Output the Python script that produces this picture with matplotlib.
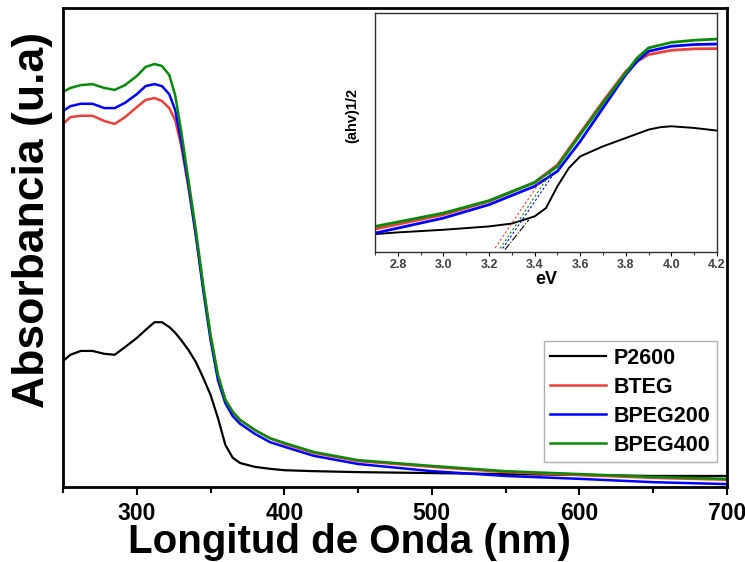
import numpy as np
import matplotlib
matplotlib.use('Agg')
import matplotlib.pyplot as plt

plt.rcParams['font.family'] = ['Liberation Sans', 'DejaVu Sans']
plt.rcParams['font.weight'] = 'bold'

# main spectra (absorbance, arbitrary units)
wl = [250, 255, 262, 270, 278, 285, 292, 300, 306, 312, 317, 322, 326, 330, 335,
      340, 345, 350, 355, 360, 365, 370, 380, 390, 400, 420, 450, 500, 550, 600, 650, 700]
p2600 = [26.3, 27.6, 28.4, 28.4, 27.8, 27.6, 29.2, 31.1, 32.8, 34.4, 34.4, 33.4, 32.2, 30.7, 28.6,
         26.1, 22.8, 19.2, 14.4, 8.8, 6.1, 5.0, 4.2, 3.8, 3.5, 3.3, 3.1, 2.9, 2.7, 2.5, 2.3, 2.3]
bteg = [75.8, 77.2, 77.5, 77.5, 76.4, 75.8, 77.2, 79.3, 80.8, 81.2, 80.6, 79.1, 76.6, 71.4, 62.6,
        52.6, 41.8, 31.5, 23.2, 18.2, 15.7, 14.0, 11.9, 10.2, 9.0, 7.1, 5.4, 4.2, 3.1, 2.5, 1.9, 1.5]
bpeg200 = [78.5, 79.5, 80.0, 80.0, 79.1, 79.1, 80.2, 82.0, 83.7, 84.1, 83.7, 82.0, 78.7, 72.4, 63.0,
           52.6, 41.1, 30.7, 22.3, 17.5, 14.8, 13.2, 11.1, 9.4, 8.4, 6.5, 4.8, 3.3, 2.3, 1.7, 1.0, 0.6]
bpeg400 = [82.5, 83.3, 83.9, 84.1, 83.3, 82.9, 83.9, 85.8, 87.7, 88.3, 87.9, 86.0, 81.8, 74.5, 64.1,
           53.7, 42.2, 31.7, 23.4, 18.2, 15.7, 14.0, 11.9, 10.2, 9.2, 7.3, 5.6, 4.4, 3.3, 2.7, 2.1, 1.7]

# Tauc plot (inset)
ev = [2.7, 3.0, 3.2, 3.4, 3.5, 3.6, 3.7, 3.8, 3.85, 3.9, 4.0, 4.1, 4.2]
tauc_bteg = [9.6, 15.6, 21.2, 29.1, 36.5, 49.8, 63.0, 75.6, 79.8, 82.6, 84.4, 85.0, 85.1]
tauc_bpeg200 = [7.9, 14.2, 19.8, 27.5, 33.8, 46.3, 60.3, 74.2, 79.8, 84.0, 86.1, 86.8, 87.0]
tauc_bpeg400 = [10.7, 16.3, 21.5, 29.1, 35.8, 49.1, 62.3, 74.9, 81.2, 85.4, 87.7, 88.6, 89.1]
ev_black = [2.7, 2.8, 3.0, 3.2, 3.3, 3.4, 3.45, 3.5, 3.55, 3.6, 3.7, 3.8, 3.9, 3.95, 4.0, 4.1, 4.2]
tauc_p2600 = [7.5, 8.2, 9.3, 10.7, 11.9, 14.9, 18.4, 27.5, 35.1, 40.0, 44.2, 47.7, 51.2, 52.2, 52.6, 51.9, 50.8]

# extrapolated tangents (eV pairs, value pairs)
tan_bteg = ([3.227, 3.454], [1.7, 33.7])
tan_bpeg400 = ([3.249, 3.47], [1.5, 33.0])
tan_bpeg200 = ([3.26, 3.475], [1.5, 31.5])
tan_p2600 = ([3.27, 3.375], [1.0, 13.5])

c_black, c_red, c_blue, c_green = 'black', '#e8413c', '#0000ff', '#0a8a0a'

fig = plt.figure(figsize=(7.45, 5.62), dpi=100)
ax = fig.add_axes([0.0846, 0.1335, 0.8912, 0.8523])
ax.plot(wl, p2600, color=c_black, lw=1.6, label='P2600')
ax.plot(wl, bteg, color=c_red, lw=1.8, label='BTEG')
ax.plot(wl, bpeg200, color=c_blue, lw=1.8, label='BPEG200')
ax.plot(wl, bpeg400, color=c_green, lw=1.8, label='BPEG400')
ax.set_xlim(250, 700)
ax.set_ylim(0, 100)
ax.set_xticks([300, 400, 500, 600, 700])
ax.set_xticks(np.arange(250, 701, 50), minor=True)
ax.set_yticks([])
ax.tick_params(axis='x', which='major', direction='out', length=6, width=1.5, labelsize=16.5, pad=5)
ax.tick_params(axis='x', which='minor', direction='out', length=4, width=1.5)
for s in ax.spines.values():
    s.set_linewidth(2)
ax.set_xlabel('Longitud de Onda (nm)', fontsize=29, fontweight='bold')
ax.xaxis.set_label_coords(0.431, -0.075)
ax.set_ylabel('Absorbancia (u.a)', fontsize=32, fontweight='bold')
ax.yaxis.set_label_coords(-0.015, 0.557)
leg = ax.legend(loc='lower right', bbox_to_anchor=(0.985, 0.052), borderaxespad=0,
                prop={'weight': 'bold', 'size': 15.5}, handlelength=2.6,
                labelspacing=0.37, handletextpad=0.35, borderpad=0.3,
                fancybox=False, framealpha=1)
leg.get_frame().set_edgecolor('#b0b0b0')
leg.get_frame().set_linewidth(1)

ins = fig.add_axes([0.5034, 0.5516, 0.459, 0.4253])
ins.plot(ev_black, tauc_p2600, color=c_black, lw=1.4)
ins.plot(ev, tauc_bteg, color=c_red, lw=2)
ins.plot(ev, tauc_bpeg200, color=c_blue, lw=2)
ins.plot(ev, tauc_bpeg400, color=c_green, lw=2)
ins.plot(*tan_bteg, color=c_red, lw=0.8, ls=(0, (2, 2)))
ins.plot(*tan_bpeg400, color=c_green, lw=0.8, ls=(0, (2, 2)))
ins.plot(*tan_bpeg200, color=c_blue, lw=0.8, ls=(0, (2, 2)))
ins.plot(*tan_p2600, color=c_black, lw=0.8, ls='-.')
ins.set_xlim(2.7, 4.2)
ins.set_ylim(0, 100)
ins.set_xticks(np.arange(2.8, 4.21, 0.2))
ins.set_xticks(np.arange(2.7, 4.21, 0.1), minor=True)
ins.set_xticklabels(['%.1f' % v for v in np.arange(2.8, 4.21, 0.2)])
ins.set_yticks([])
ins.tick_params(axis='x', which='major', direction='out', length=3, labelsize=9,
                labelcolor='#404040', pad=2)
ins.tick_params(axis='x', which='minor', direction='out', length=2)
for s in ins.spines.values():
    s.set_linewidth(1)
    s.set_color('#303030')
ins.set_xlabel('eV', fontsize=13, fontweight='bold', labelpad=0)
ins.set_ylabel('(ahv)1/2', fontsize=10.5, fontweight='bold')
ins.yaxis.set_label_coords(-0.045, 0.57)

fig.savefig('out.png', dpi=100)
